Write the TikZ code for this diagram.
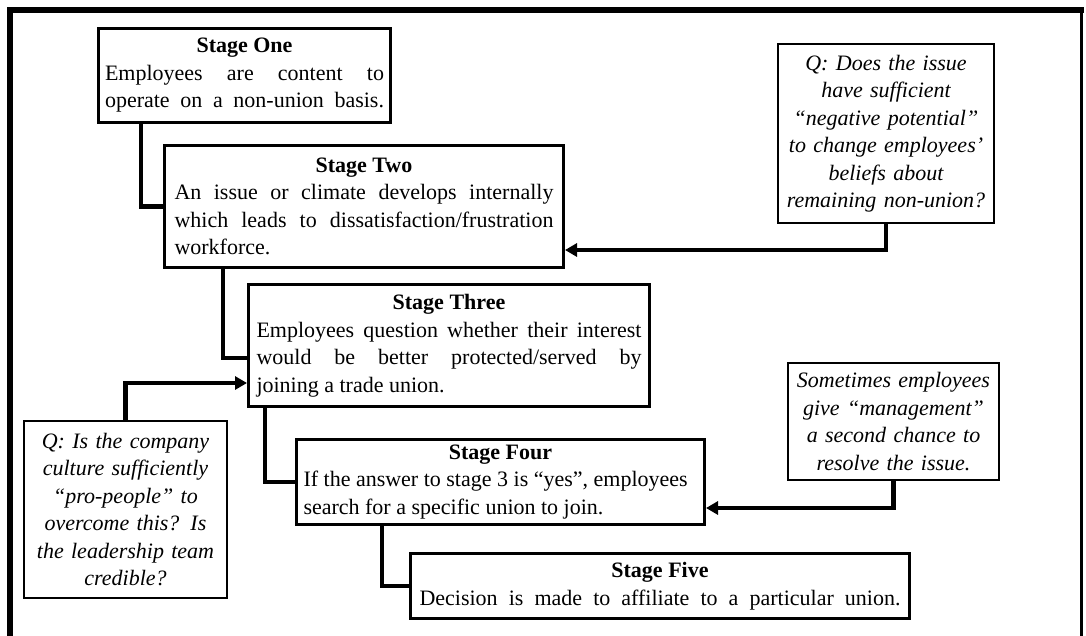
\documentclass[tikz,border=0pt]{standalone}
\usepackage{fontspec}
\setmainfont{Liberation Serif}
\usetikzlibrary{arrows.meta}

\newcommand{\stagetitle}[1]{\noindent\hfill\textbf{#1}\hfill\null\\}
% a last line spread over the full text width
\newcommand{\fullline}[1]{\makebox[\hsize][s]{#1}}

\tikzset{
  stage/.style={font=\fontsize{22pt}{27.5pt}\selectfont, draw, line width=3pt,
    fill=white, anchor=north west, align=justify, inner ysep=2pt},
  query/.style={font=\fontsize{22pt}{27.5pt}\selectfont\itshape, draw, line width=2pt,
    fill=white, anchor=north west, align=center, inner ysep=2pt},
  link/.style={line width=4.5pt, line join=miter},
  arr/.style={link, -{Triangle[length=12pt,width=13pt]}},
}

\begin{document}
\begin{tikzpicture}[x=1pt, y=-1pt]
  \useasboundingbox (0,0) rectangle (1086,635);

  % outer frame
  \draw[line width=6pt, line join=miter] (10,645) -- (10,10) -- (1084,10);
  \draw[line width=3pt] (1081.5,8) -- (1081.5,645);

  % the five stages
  \node[stage, text width=279pt, inner xsep=6.5pt, minimum height=94pt] (s1) at (97,27)
    {\stagetitle{Stage One}
     Employees are content to\linebreak
     \fullline{operate on a non-union basis.}};

  \node[stage, text width=379pt, inner xsep=10pt, minimum height=122pt] (s2) at (163,144)
    {\stagetitle{Stage Two}
     An issue or climate develops internally\linebreak
     which leads to dissatisfaction/frustration\linebreak
     workforce.};

  \node[stage, text width=385pt, inner xsep=8pt, minimum height=122pt] (s3) at (247,283)
    {\stagetitle{Stage Three}
     Employees question whether their interest\linebreak
     would be better protected/served by\linebreak
     joining a trade union.};

  \node[stage, text width=394pt, inner xsep=7pt, minimum height=85pt] (s4) at (295,438)
    {\stagetitle{Stage Four}
     If the answer to stage 3 is “yes”, employees\\
     search for a specific union to join.};

  \node[stage, text width=481pt, inner xsep=9pt, minimum height=65pt] (s5) at (409,552)
    {\stagetitle{Stage Five}
     \fullline{Decision is made to affiliate to a particular union.}};

  % side questions
  \node[query, text width=200pt, inner xsep=8pt, minimum height=179pt] (qr) at (777,43)
    {Q: Does the issue\\ have sufficient\\ “negative potential”\\
     to change employees’\\ beliefs about\\ remaining non-union?};

  \node[query, text width=197pt, inner xsep=7pt, minimum height=117pt] (qm) at (787,362)
    {Sometimes employees\\ give “management”\\ a second chance to\\ resolve the issue.};

  \node[query, text width=187pt, inner xsep=8pt, minimum height=177pt] (ql) at (23,420)
    {Q: Is the company\\ culture sufficiently\\ “pro-people” to\\
     overcome this? Is\\ the leadership team\\ credible?};

  % stage-to-stage links
  \draw[link] ([xshift=44pt]s1.south west) |- (s2.west);
  \draw[link] ([xshift=60pt]s2.south west) |- (s3.west |- 0,358);
  \draw[link] ([xshift=18pt]s3.south west) |- (s4.west);
  \draw[link] ([xshift=87pt]s4.south west) |- (s5.west);

  % question arrows
  \draw[arr] (qr.south) |- (s2.east |- 0,250);
  \draw[arr] (qm.south) |- (s4.east |- 0,508);
  \draw[arr] (ql.north) |- (s3.west |- 0,383);
\end{tikzpicture}
\end{document}
